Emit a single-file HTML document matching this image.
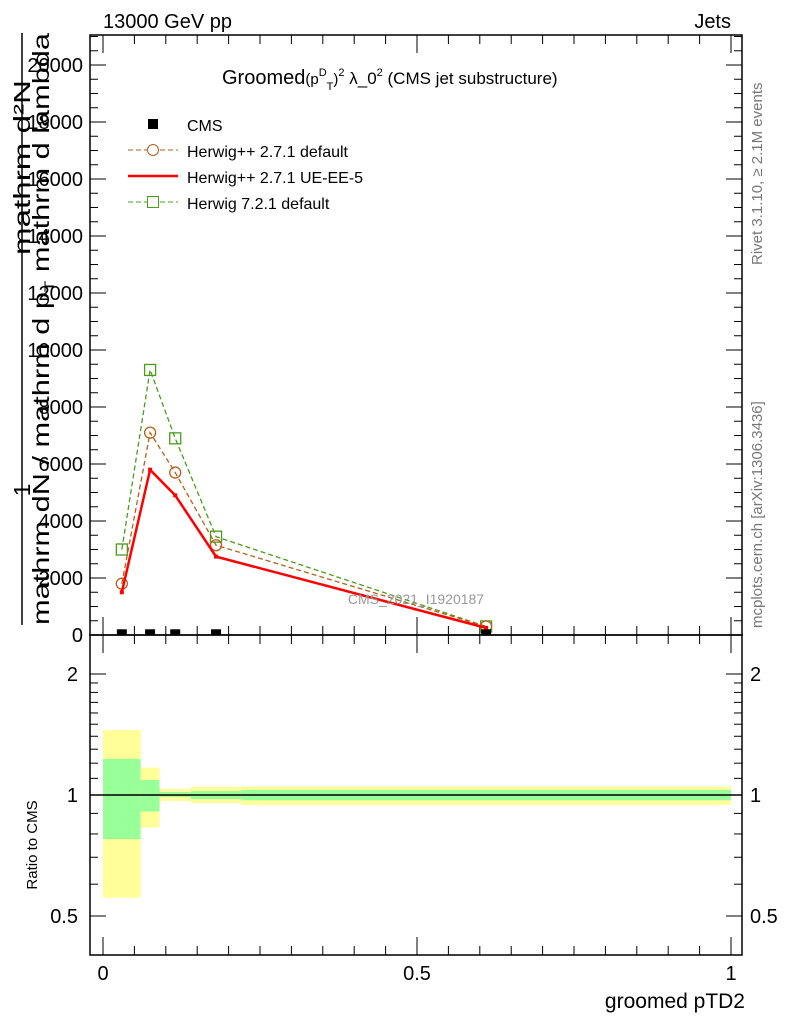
<!DOCTYPE html>
<html><head><meta charset="utf-8"><style>
body{margin:0;background:#fff;}
svg{display:block;font-family:"Liberation Sans",sans-serif;}
</style></head><body>
<svg id="c" width="786" height="1024" viewBox="0 0 786 1024">
<g id="main"></g>
</svg>
<script>
const xCats=[0.03,0.075,0.115,0.18,0.61];
const cmsVals=[60,60,60,60,60];
const h271=[1800,7100,5700,3150,300];
const ueee5=[1500,5800,4900,2750,250];
const h721=[3000,9300,6900,3450,300];
const binEdges=[0,0.06,0.09,0.14,0.22,1.0];
const yelLo=[0.555,0.83,0.966,0.955,0.945];
const yelHi=[1.45,1.17,1.035,1.047,1.05];
const grnLo=[0.777,0.91,0.99,0.977,0.97];
const grnHi=[1.23,1.09,1.017,1.023,1.03];
const yTicks=[0,2000,4000,6000,8000,10000,12000,14000,16000,18000,20000];
const rTicks=[0.5,1,2];
const xTicks=[0,0.5,1];

const NS="http://www.w3.org/2000/svg";
const g=document.getElementById('main');
function el(t,a,p){const e=document.createElementNS(NS,t);for(const k in a)e.setAttribute(k,a[k]);(p||g).appendChild(e);return e;}
const X=v=>103+v*628;
const Y=v=>635-v*0.0285;
const R=v=>795-Math.log2(v)*121;
const L=90,Rt=742,T=35,B=635,RB=955;

for(let i=0;i<binEdges.length-1;i++){
 let r=el('rect',{x:X(binEdges[i]),y:R(yelHi[i]),width:X(binEdges[i+1])-X(binEdges[i]),height:R(yelLo[i])-R(yelHi[i]),fill:'#ffff99'});
 
 
 r=el('rect',{x:X(binEdges[i]),y:R(grnHi[i]),width:X(binEdges[i+1])-X(binEdges[i]),height:R(grnLo[i])-R(grnHi[i]),fill:'#99ff99'});
 
 
}
let ln=el('line',{x1:L,x2:Rt,y1:R(1),y2:R(1),stroke:'#000','stroke-width':1.5});



for(const [t,b,n] of [[T,B,'main-frame'],[B,RB,'ratio-frame']]){
 const f=el('rect',{x:L,y:t,width:Rt-L,height:b-t,fill:'none',stroke:'#000','stroke-width':1.5});
 
 
}
for(let v=0;v<=21000;v+=500){
 const y=Y(v);if(y<T)continue;const maj=v%2000===0;const len=maj?16:8;
 el('line',{x1:L,x2:L+len,y1:y,y2:y,stroke:'#000'});
 el('line',{x1:Rt,x2:Rt-len,y1:y,y2:y,stroke:'#000'});
}
yTicks.forEach(v=>{const t=el('text',{x:83,y:Y(v)+7,'text-anchor':'end','font-size':20});t.textContent=v;
 
 });
[0.5,0.6,0.7,0.8,0.9,1,1.1,1.2,1.3,1.4,1.5,1.6,1.7,1.8,1.9,2].forEach(v=>{
 const maj=rTicks.includes(v);const len=maj?16:8;const y=R(v);
 el('line',{x1:L,x2:L+len,y1:y,y2:y,stroke:'#000'});
 el('line',{x1:Rt,x2:Rt-len,y1:y,y2:y,stroke:'#000'});
});
rTicks.forEach(v=>{
 let t=el('text',{x:78,y:R(v)+7,'text-anchor':'end','font-size':20});t.textContent=v;
 
 
 t=el('text',{x:750,y:R(v)+7,'font-size':20});t.textContent=v;
 
 
});
for(let v=0;v<=1.0001;v+=0.05){
 const maj=Math.abs(v*2-Math.round(v*2))<1e-6;const len=maj?18:9;const x=X(v);
 for(const [b,t] of [[B,T],[RB,B]]){
  el('line',{x1:x,x2:x,y1:b,y2:b-len,stroke:'#000'});
  el('line',{x1:x,x2:x,y1:t,y2:t+len,stroke:'#000'});
 }
}
xTicks.forEach(v=>{const t=el('text',{x:X(v),y:980,'text-anchor':'middle','font-size':20});t.textContent=v;
 
 });

function series(vals,color,dash,marker,name){
 const pts=xCats.map((x,i)=>X(x)+','+Y(vals[i])).join(' ');
 const p=el('polyline',{points:pts,fill:'none',stroke:color,'stroke-width':dash?1.3:2.5,'stroke-dasharray':dash?'5,3':'none'});
 
 
 xCats.forEach((x,i)=>{let m;
  if(marker==='circle')m=el('circle',{cx:X(x),cy:Y(vals[i]),r:5.5,fill:'none',stroke:color,'stroke-width':1.3});
  else if(marker==='square')m=el('rect',{x:X(x)-5.5,y:Y(vals[i])-5.5,width:11,height:11,fill:'none',stroke:color,'stroke-width':1.3});
  else m=el('rect',{x:X(x)-2,y:Y(vals[i])-2,width:4,height:4,fill:color});
  
  
 });
}
series(h721,'#4a9c1a',true,'square','herwig-721');
series(h271,'#b5611a',true,'circle','herwig-271-default');
series(ueee5,'#ff0000',false,'dot','herwig-271-ueee5');
xCats.forEach((x,i)=>{const m=el('rect',{x:X(x)-5,y:Y(cmsVals[i])-4,width:10,height:6,fill:'#000'});
 
 });

const lg=el('g',{});


el('rect',{x:148,y:119,width:10,height:10,fill:'#000'},lg);
el('line',{x1:128,x2:178,y1:150,y2:150,stroke:'#b5611a','stroke-dasharray':'5,3'},lg);
el('circle',{cx:153,cy:150,r:5.5,fill:'#fff',stroke:'#b5611a'},lg);
el('line',{x1:128,x2:178,y1:176,y2:176,stroke:'#ff0000','stroke-width':2.5},lg);
el('line',{x1:128,x2:178,y1:202,y2:202,stroke:'#4a9c1a','stroke-dasharray':'5,3'},lg);
el('rect',{x:147.5,y:196.5,width:11,height:11,fill:'#fff',stroke:'#4a9c1a'},lg);
[['CMS',131],['Herwig++ 2.7.1 default',157],['Herwig++ 2.7.1 UE-EE-5',183],['Herwig 7.2.1 default',209]].forEach(([s,y])=>{
 const t=el('text',{x:187,y:y,'font-size':16},lg);t.textContent=s;
 
 });
</script>
<svg style="position:absolute;left:0;top:0" width="786" height="1024">
<text x="103" y="28" font-size="20">13000 GeV pp</text>
<text x="731" y="28" font-size="20" text-anchor="end">Jets</text>
<text x="222" y="84" font-size="20">Groomed<tspan font-size="15">(p</tspan><tspan font-size="11" dy="-8">D</tspan><tspan font-size="11" dy="14">T</tspan><tspan font-size="15" dy="-6">)</tspan><tspan font-size="11" dy="-8">2</tspan><tspan font-size="17" dy="8"> λ_0</tspan><tspan font-size="11" dy="-8">2</tspan><tspan font-size="17" dy="8"> (CMS jet substructure)</tspan></text>
<text x="416" y="604" font-size="14" fill="#999" text-anchor="middle">CMS_2021_I1920187</text>
<text transform="translate(762,265) rotate(-90)" font-size="15" fill="#777">Rivet 3.1.10, ≥ 2.1M events</text>
<text transform="translate(762,628) rotate(-90)" font-size="15" fill="#777">mcplots.cern.ch [arXiv:1306.3436]</text>
<text transform="translate(30,255) rotate(-90)" font-size="23" textLength="175" lengthAdjust="spacingAndGlyphs">mathrm d²N</text>
<text transform="translate(30,490) rotate(-90)" font-size="23" text-anchor="middle">1</text>
<line x1="22" x2="22" y1="33" y2="625" stroke="#000" stroke-width="1.5"/>
<text transform="translate(49,625) rotate(-90)" font-size="23" textLength="592" lengthAdjust="spacingAndGlyphs">mathrm dN / mathrm d p<tspan font-size="14" dy="5">T</tspan><tspan dy="-5"> mathrm d lambda</tspan></text>
<text transform="translate(37,845) rotate(-90)" font-size="15" text-anchor="middle">Ratio to CMS</text>
<text x="745" y="1008" font-size="21" text-anchor="end">groomed pTD2</text>
</svg>
</body></html>
